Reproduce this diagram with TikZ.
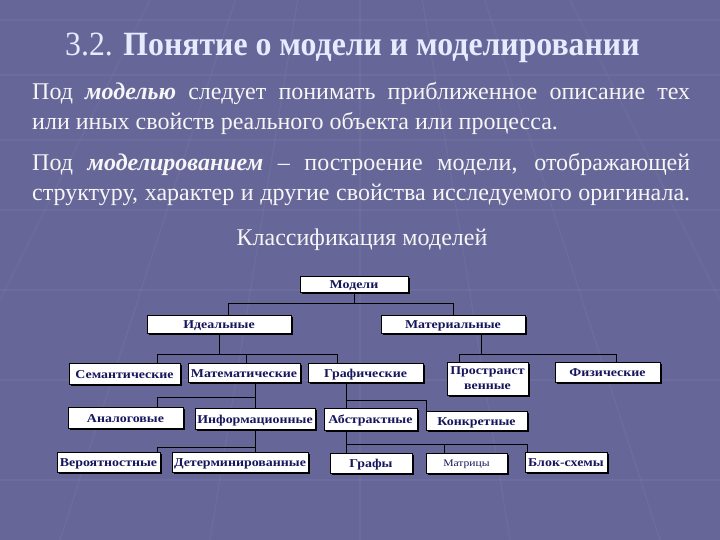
\documentclass[tikz,border=0pt]{standalone}
\usepackage{graphicx}
\usepackage{fontspec}
\setmainfont{Liberation Serif}
\definecolor{bg}{RGB}{102,102,153}
\definecolor{navy}{RGB}{22,22,92}
\definecolor{titlec}{RGB}{230,236,255}
\definecolor{txt}{RGB}{246,246,246}
\newcommand{\widebx}[1]{\scalebox{1.16}[1]{#1}}
\tikzset{
  box/.style={draw=black, line width=1pt, fill=white, inner sep=0pt, align=center,
    font=\bfseries\fontsize{12}{13}\selectfont, text=navy, text height=9pt, text depth=0pt,
    preaction={fill=black, transform canvas={xshift=1.6pt,yshift=-1.6pt}}},
  conn/.style={draw=black, line width=0.9pt},
  bline/.style={draw=white, opacity=0.045, line width=1.2pt},
  bodytext/.style={text=txt, inner sep=0pt, anchor=base west, font=\fontsize{24}{30}\selectfont}
}
\begin{document}
\begin{tikzpicture}[x=1pt,y=-1pt]
\fill[bg] (0,0) rectangle (720,540);
\useasboundingbox (0,0) rectangle (720,540);
% faint background grid
\foreach \xt/\xb in {300/60, 330/210, 360/360, 390/510, 420/660, 250/-120, 470/840}
  \draw[bline] (\xt,-200) -- (\xb,540);
\foreach \yy in {20,75,140,210,290,380,480}
  \draw[bline] (0,\yy) -- (720,\yy);
% title
\node[anchor=base west, text=titlec, inner sep=0pt, font=\fontsize{34}{38}\selectfont] (title) at (65,56)
  {\scalebox{0.935}[1]{3.2. \textbf{Понятие о модели и моделировании}}};
% paragraphs
\node[bodytext] (p1a) at (32,100) {\makebox[658pt][s]{Под \textbf{\textit{моделью}} следует понимать приближенное описание тех}};
\node[bodytext] (p1b) at (32,130) {или иных свойств реального объекта или процесса.};
\node[bodytext] (p2a) at (32,171) {\makebox[658pt][s]{Под \textbf{\textit{моделированием}} – построение модели, отображающей}};
\node[bodytext] (p2b) at (32,201) {\makebox[658pt][s]{структуру, характер и другие свойства исследуемого оригинала.}};
\node[text=txt, inner sep=0pt, anchor=base, font=\fontsize{24}{28}\selectfont] (cls) at (362,245) {Классификация моделей};
% boxes
\node[box, minimum width=108pt, minimum height=16pt] (m0) at (354,284) {\widebx{Модели}};
\node[box, minimum width=144pt, minimum height=18pt] (id) at (219,324) {\widebx{Идеальные}};
\node[box, minimum width=144pt, minimum height=18pt] (mat) at (453,324) {\widebx{Материальные}};
\node[box, minimum width=111pt, minimum height=21pt] (sem) at (124.5,373.5) {\widebx{Семантические}};
\node[box, minimum width=112pt, minimum height=19pt] (math) at (244,372.5) {\widebx{Математические}};
\node[box, minimum width=115pt, minimum height=19pt] (gr) at (365.5,372.5) {\widebx{Графические}};
\node[box, minimum width=81pt, minimum height=33pt, font=\bfseries\fontsize{12}{15}\selectfont, text height=25pt, text depth=3pt] (pr) at (487.5,378.5) {\widebx{Пространст}\\\widebx{венные}};
\node[box, minimum width=105pt, minimum height=20pt] (fiz) at (607.5,372) {\widebx{Физические}};
\node[box, minimum width=115pt, minimum height=21pt] (an) at (125.5,417.5) {\widebx{Аналоговые}};
\node[box, minimum width=120pt, minimum height=21pt] (inf) at (255,418.5) {\widebx{Информационные}};
\node[box, minimum width=93pt, minimum height=22pt] (ab) at (370.5,419) {\widebx{Абстрактные}};
\node[box, minimum width=101pt, minimum height=19pt] (kon) at (476.5,420.5) {\widebx{Конкретные}};
\node[box, minimum width=103pt, minimum height=20pt] (ver) at (108.5,462) {\widebx{Вероятностные}};
\node[box, minimum width=136pt, minimum height=20pt] (det) at (240,462) {\widebx{Детерминированные}};
\node[box, minimum width=82pt, minimum height=20pt] (graf) at (371,463) {\widebx{Графы}};
\node[box, minimum width=81pt, minimum height=20pt, font=\fontsize{10}{11}\selectfont, text height=7.5pt] (matr) at (466.5,463) {\widebx{Матрицы}};
\node[box, minimum width=82pt, minimum height=20pt] (bs) at (566,462) {\widebx{Блок-схемы}};
% connectors
\coordinate (j0) at (354,303); \coordinate (j0l) at (228,303); \coordinate (j0r) at (453,303);
\draw[conn] (m0.south) -- (j0);
\draw[conn] (j0l) -- (j0r);
\draw[conn] (j0l) -- (j0l |- id.north);
\draw[conn] (j0r) -- (j0r |- mat.north);
\coordinate (j1l) at (157,354); \coordinate (j1m) at (246,354); \coordinate (j1r) at (337,354);
\draw[conn] (id.south) -- (id.south |- j1l);
\draw[conn] (j1l) -- (j1r);
\draw[conn] (j1l) -- (j1l |- sem.north);
\draw[conn] (j1m) -- (j1m |- math.north);
\draw[conn] (j1r) -- (j1r |- gr.north);
\coordinate (j2l) at (459,354); \coordinate (j2r) at (616,354); \coordinate (j2t) at (481,333);
\draw[conn] (j2t) -- (j2t |- j2l);
\draw[conn] (j2l) -- (j2r);
\draw[conn] (j2l) -- (j2l |- pr.north);
\draw[conn] (j2r) -- (j2r |- fiz.north);
\coordinate (j3t) at (255,382); \coordinate (j3l) at (157,397); \coordinate (j3r) at (255,397);
\draw[conn] (j3t) -- (j3r);
\draw[conn] (j3l) -- (j3r);
\draw[conn] (j3l) -- (j3l |- an.north);
\draw[conn] (j3r) -- (inf.north);
\coordinate (j4l) at (157,447); \coordinate (j4r) at (255,447);
\draw[conn] (inf.south) -- (j4r);
\draw[conn] (j4l) -- (j4r);
\draw[conn] (j4l) -- (j4l |- ver.north);
\draw[conn] (j4r) -- (j4r |- det.north);
\coordinate (j5t) at (346,382); \coordinate (j5l) at (346,400); \coordinate (j5r) at (426,400);
\draw[conn] (j5t) -- (j5l);
\draw[conn] (j5l) -- (j5r);
\draw[conn] (j5l) -- (j5l |- ab.north);
\draw[conn] (j5r) -- (j5r |- kon.north);
\coordinate (j6t) at (346,430); \coordinate (j6l) at (346,444); \coordinate (j6m) at (444,444); \coordinate (j6r) at (527,444);
\draw[conn] (j6t) -- (j6l);
\draw[conn] (j6l) -- (j6r);
\draw[conn] (j6l) -- (j6l |- graf.north);
\draw[conn] (j6m) -- (j6m |- matr.north);
\draw[conn] (j6r) -- (j6r |- bs.north);
\end{tikzpicture}
\end{document}
